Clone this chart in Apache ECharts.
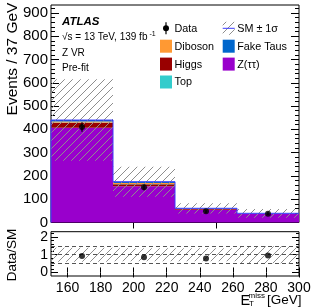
<!DOCTYPE html>
<html><head><meta charset="utf-8">
<script src="https://cdn.jsdelivr.net/npm/echarts@6/dist/echarts.min.js"></script>
<style>html,body{margin:0;padding:0;background:#fff}#c{width:316px;height:307px}</style>
</head><body><div id="c"></div>
<script>
// ---- data ----
const binEdges = [150, 187.5, 225, 262.5, 300];
const zTauTau  = [407, 156, 55, 36];
const higgs    = [21, 8, 2.5, 1];
const topQ     = [1, 1.5, 0.5, 0.3];
const diboson  = [5, 4, 1.5, 1];
const fakeTaus = [6, 5.5, 1.5, 1.2];
const smUnc    = [175, 64, 22, 19];
const dataVals = [410, 151, 48, 38];
const dataErr  = [20, 12, 7, 6];
const yMajorTicks = [0, 100, 200, 300, 400, 500, 600, 700, 800, 900];
const xTickLabels = [160, 180, 200, 220, 240, 260, 280, 300];
const xMainTicks = [200, 250];
const ratioTicks = [0, 1, 2];
const ratioLines = [0.5, 1, 1.5];

const FONT = 'Liberation Sans, Arial, Helvetica, sans-serif';
const components = [
  {name: 'Z(ττ)', values: zTauTau, color: '#9900cc'},
  {name: 'Higgs', values: higgs, color: '#990000'},
  {name: 'Top', values: topQ, color: '#33cccc'},
  {name: 'Diboson', values: diboson, color: '#ff9933'},
  {name: 'Fake Taus', values: fakeTaus, color: '#0066cc'}
];

function makeHatch() {
  const c = document.createElement('canvas');
  c.width = 8; c.height = 8;
  const g = c.getContext('2d');
  g.strokeStyle = '#8e8e8e'; g.lineWidth = 1;
  g.beginPath();
  g.moveTo(0, 8); g.lineTo(8, 0);
  g.moveTo(-1, 1); g.lineTo(1, -1);
  g.moveTo(7, 9); g.lineTo(9, 7);
  g.stroke();
  return c;
}
const hatch = {image: makeHatch(), repeat: 'repeat'};

const nb = binEdges.length - 1;
const centers = [], totals = [];
for (let i = 0; i < nb; i++) {
  centers.push((binEdges[i] + binEdges[i + 1]) / 2);
  let t = 0; components.forEach(c => t += c.values[i]);
  totals.push(t);
}

function rectRender(fill) {
  return function (params, api) {
    const p0 = api.coord([api.value(0), api.value(3)]);
    const p1 = api.coord([api.value(1), api.value(2)]);
    return {type: 'rect', shape: {x: p0[0], y: p0[1], width: p1[0] - p0[0], height: p1[1] - p0[1]},
            style: {fill: fill, stroke: null}};
  };
}

const series = [];
const base = new Array(nb).fill(0);
components.forEach(c => {
  const d = [];
  for (let i = 0; i < nb; i++) { d.push([binEdges[i], binEdges[i + 1], base[i], base[i] + c.values[i]]); base[i] += c.values[i]; }
  series.push({type: 'custom', name: c.name, xAxisIndex: 0, yAxisIndex: 0, z: 2, silent: true,
    encode: {x: [0, 1], y: [2, 3]}, renderItem: rectRender(c.color), data: d});
});
// uncertainty hatch main
series.push({type: 'custom', xAxisIndex: 0, yAxisIndex: 0, z: 3, silent: true, encode: {x: [0, 1], y: [2, 3]},
  renderItem: rectRender(hatch),
  data: totals.map((t, i) => [binEdges[i], binEdges[i + 1], t - smUnc[i], t + smUnc[i]])});
// total outline
const outline = [[binEdges[0], 0]];
for (let i = 0; i < nb; i++) outline.push([binEdges[i], totals[i]]);
outline.push([binEdges[nb], totals[nb - 1]]);
series.push({type: 'line', step: 'end', xAxisIndex: 0, yAxisIndex: 0, z: 4, silent: true, symbol: 'none',
  lineStyle: {color: '#3a3aff', width: 1}, data: outline});
// data error bars
series.push({type: 'custom', xAxisIndex: 0, yAxisIndex: 0, z: 5, silent: true, encode: {x: 0, y: [1, 2]},
  renderItem: function (params, api) {
    const a = api.coord([api.value(0), api.value(1)]);
    const b = api.coord([api.value(0), api.value(2)]);
    return {type: 'line', shape: {x1: a[0], y1: a[1], x2: b[0], y2: b[1]}, style: {stroke: '#000', lineWidth: 1.2}};
  },
  data: dataVals.map((v, i) => [centers[i], v - dataErr[i], v + dataErr[i]])});
series.push({type: 'scatter', xAxisIndex: 0, yAxisIndex: 0, z: 6, silent: true, symbol: 'circle', symbolSize: 6,
  itemStyle: {color: '#000'}, data: dataVals.map((v, i) => [centers[i], v])});
// ratio
series.push({type: 'custom', xAxisIndex: 2, yAxisIndex: 4, z: 3, silent: true, encode: {x: [0, 1], y: [2, 3]},
  renderItem: rectRender(hatch),
  data: totals.map((t, i) => [binEdges[i], binEdges[i + 1], 1 - smUnc[i] / t, 1 + smUnc[i] / t]),
  markLine: {silent: true, symbol: 'none', label: {show: false},
    lineStyle: {color: '#555', width: 1, type: [4, 3]},
    data: ratioLines.map(v => ({yAxis: v}))}});
series.push({type: 'scatter', xAxisIndex: 2, yAxisIndex: 4, z: 6, silent: true, symbol: 'circle', symbolSize: 6,
  itemStyle: {color: '#000'}, data: dataVals.map((v, i) => [centers[i], v / totals[i]])});

function range(a, b, s, skip) { const r = []; for (let v = a; v <= b + 1e-9; v += s) { const vv = Math.round(v * 1000) / 1000; if (!skip || !skip(vv)) r.push(vv); } return r; }
const yMinorTicks = range(20, 920, 20, v => v % 100 === 0);
const ratioMinor = range(0.2, 2.2, 0.2, v => Math.abs(v - Math.round(v)) < 1e-6);

function ax(o) {
  return Object.assign({type: 'value', axisLine: {show: false}, splitLine: {show: false},
    axisLabel: {show: false}, axisTick: {show: false}}, o);
}
function ticks(vals, len) { return {show: true, inside: true, length: len, customValues: vals, lineStyle: {color: '#000', width: 1}}; }

const xAxis = [
  ax({gridIndex: 0, position: 'bottom', min: 150, max: 300, axisTick: ticks(xMainTicks, 6)}),
  ax({gridIndex: 0, position: 'top', min: 150, max: 300, axisTick: ticks(xMainTicks, 6)}),
  ax({gridIndex: 1, position: 'bottom', min: 150, max: 300, axisTick: ticks(xTickLabels, 5),
      axisLabel: {show: true, customValues: xTickLabels, fontSize: 14, fontFamily: FONT, color: '#000', margin: 5}}),
  ax({gridIndex: 1, position: 'top', min: 150, max: 300, axisTick: ticks(xTickLabels, 5)})
];
const yMax = 934;
const yAxis = [
  ax({gridIndex: 0, position: 'left', min: 0, max: yMax, axisTick: ticks(yMajorTicks, 8),
      axisLabel: {show: true, customValues: yMajorTicks, fontSize: 15, fontFamily: FONT, color: '#000', margin: 3}}),
  ax({gridIndex: 0, position: 'left', min: 0, max: yMax, axisTick: ticks(yMinorTicks, 4)}),
  ax({gridIndex: 0, position: 'right', min: 0, max: yMax, axisTick: ticks(yMajorTicks, 8)}),
  ax({gridIndex: 0, position: 'right', min: 0, max: yMax, axisTick: ticks(yMinorTicks, 4)}),
  ax({gridIndex: 1, position: 'left', min: -0.2, max: 2.3, axisTick: ticks(ratioTicks, 7),
      axisLabel: {show: true, customValues: ratioTicks, fontSize: 14, fontFamily: FONT, color: '#000', margin: 3}}),
  ax({gridIndex: 1, position: 'left', min: -0.2, max: 2.3, axisTick: ticks(ratioMinor, 3)}),
  ax({gridIndex: 1, position: 'right', min: -0.2, max: 2.3, axisTick: ticks(ratioTicks, 7)}),
  ax({gridIndex: 1, position: 'right', min: -0.2, max: 2.3, axisTick: ticks(ratioMinor, 3)})
];

function txt(x, y, text, size, styleExtra) {
  return {type: 'text', x: x, y: y, silent: true,
    style: Object.assign({text: text, fontSize: size, fontFamily: FONT, fill: '#000', align: 'left', verticalAlign: 'middle'}, styleExtra || {})};
}
const legRows = [28.3, 46.2, 64.1, 82];
const legLeft = [
  {name: 'Data', kind: 'data'},
  {name: 'Diboson', color: '#ff9933'},
  {name: 'Higgs', color: '#990000'},
  {name: 'Top', color: '#33cccc'}
];
const legRight = [
  {name: 'SM ± 1σ', kind: 'hatch'},
  {name: 'Fake Taus', color: '#0066cc'},
  {name: 'Z(ττ)', color: '#9900cc'}
];
const graphic = [];
function legItem(item, bx, y) {
  if (item.kind === 'data') {
    graphic.push({type: 'line', silent: true, shape: {x1: bx + 6, y1: y - 6, x2: bx + 6, y2: y + 6}, style: {stroke: '#000', lineWidth: 1.2}});
    graphic.push({type: 'circle', silent: true, shape: {cx: bx + 6, cy: y, r: 3}, style: {fill: '#000'}});
  } else if (item.kind === 'hatch') {
    graphic.push({type: 'rect', silent: true, shape: {x: bx, y: y - 6.5, width: 12, height: 13}, style: {fill: hatch}});
    graphic.push({type: 'line', silent: true, shape: {x1: bx, y1: y, x2: bx + 12, y2: y}, style: {stroke: '#3a3aff', lineWidth: 1}});
  } else {
    graphic.push({type: 'rect', silent: true, shape: {x: bx, y: y - 6.5, width: 12, height: 13}, style: {fill: item.color}});
  }
  graphic.push(txt(bx + 14.5, y + 0.5, item.name, 10.8));
}
legLeft.forEach((it, i) => legItem(it, 160, legRows[i]));
legRight.forEach((it, i) => legItem(it, 222.7, legRows[i]));

graphic.push(txt(62, 21.5, 'ATLAS', 11.5, {fontWeight: 'bold', fontStyle: 'italic'}));
graphic.push(txt(62, 37.5, '√s = 13 TeV, 139 fb', 10));
graphic.push(txt(149.5, 34.5, '-1', 7));
graphic.push(txt(62, 53, 'Z VR', 10));
graphic.push(txt(62, 68.5, 'Pre-fit', 10));
graphic.push({type: 'text', x: 12.5, y: 59, rotation: Math.PI / 2, silent: true,
  style: {text: 'Events / 37 GeV', fontSize: 15.5, fontFamily: FONT, fill: '#000', align: 'center', verticalAlign: 'middle'}});
graphic.push({type: 'text', x: 12.5, y: 255, rotation: Math.PI / 2, silent: true,
  style: {text: 'Data/SM', fontSize: 13.5, fontFamily: FONT, fill: '#000', align: 'center', verticalAlign: 'middle'}});
graphic.push(txt(240.5, 300.5, 'E', 14.5));
graphic.push(txt(248.5, 296, 'miss', 8));
graphic.push(txt(249, 304, 'T', 8));
graphic.push(txt(267, 300.5, '[GeV]', 13.5));

const chart = echarts.init(document.getElementById('c'), null, {renderer: 'canvas'});
chart.setOption({
  animation: false,
  backgroundColor: '#fff',
  grid: [
    {left: 51, width: 248, top: 5, height: 217.5, show: true, borderColor: '#000', borderWidth: 1, backgroundColor: 'transparent', containLabel: false, outerBoundsMode: 'none'},
    {left: 51, width: 248, top: 231.7, height: 44.3, show: true, borderColor: '#000', borderWidth: 1, backgroundColor: 'transparent', containLabel: false, outerBoundsMode: 'none'}
  ],
  xAxis: xAxis,
  yAxis: yAxis,
  series: series,
  graphic: graphic
});
</script></body></html>
